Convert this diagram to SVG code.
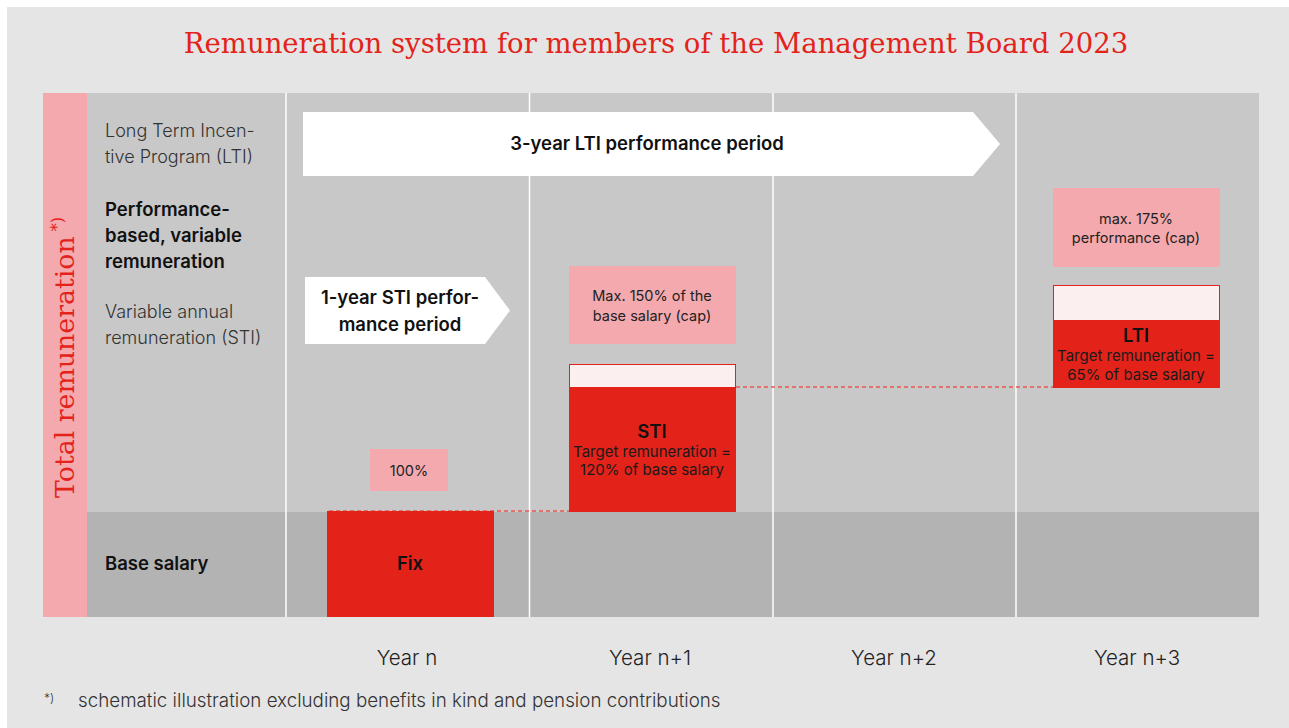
<svg xmlns="http://www.w3.org/2000/svg" width="1289" height="728" viewBox="0 0 1289 728">
  <style>
    .lbl { font-family: Inter, "Noto Sans", "Liberation Sans", sans-serif; font-size: 18px; font-weight: 300; fill: #333333; }
    .bold { font-family: Inter, "Noto Sans", "Liberation Sans", sans-serif; font-size: 18.5px; font-weight: 600; fill: #111111; }
    .small { font-family: Inter, "Noto Sans", "Liberation Sans", sans-serif; font-size: 14.5px; font-weight: 400; fill: #222222; text-anchor: middle; }
    .inred { font-family: Inter, "Noto Sans", "Liberation Sans", sans-serif; font-size: 15px; font-weight: 400; fill: #1a1a1a; text-anchor: middle; }
    .year { font-family: Inter, "Noto Sans", "Liberation Sans", sans-serif; font-size: 20.5px; font-weight: 300; fill: #222222; text-anchor: middle; }
    .note { font-family: Inter, "Noto Sans", "Liberation Sans", sans-serif; font-weight: 300; fill: #333333; }
    .slab { font-family: "DejaVu Serif", "Liberation Serif", serif; fill: #e3231a; }
    .cap { fill: #f4a9ae; }
    .red { fill: #e3231a; }
    .capbox { fill: #fcefef; stroke: #e3231a; stroke-width: 1; }
    .divider { stroke: #ffffff; stroke-width: 1.5; }
    .dash { stroke: #e8574d; stroke-width: 1.5; stroke-dasharray: 4 3; fill: none; }
    .arrow { fill: #ffffff; }
  </style>

  <!-- page background -->
  <rect x="0" y="0" width="1289" height="728" fill="#ffffff"/>
  <rect x="7" y="7" width="1282" height="721" fill="#e5e5e5"/>

  <!-- title -->
  <text class="slab" x="656" y="53" font-size="27.5" text-anchor="middle">Remuneration system for members of the Management Board 2023</text>

  <!-- chart grid -->
  <g id="grid">
    <rect x="87" y="93" width="1172" height="419" fill="#c8c8c8"/>
    <rect x="87" y="512" width="1172" height="105" fill="#b3b3b3"/>
    <rect x="43" y="93" width="44" height="524" fill="#f4a9ae"/>
    <line class="divider" x1="286" y1="93" x2="286" y2="617"/>
    <line class="divider" x1="529.5" y1="93" x2="529.5" y2="617"/>
    <line class="divider" x1="773" y1="93" x2="773" y2="617"/>
    <line class="divider" x1="1016" y1="93" x2="1016" y2="617"/>
  </g>

  <!-- vertical axis label -->
  <text class="slab" transform="translate(74 498) rotate(-90)" font-size="26.8">Total remuneration<tspan font-size="16" dy="-11" dx="5">*)</tspan></text>

  <!-- row labels -->
  <g id="row-labels">
    <text class="lbl" x="105" y="137">Long Term Incen-</text>
    <text class="lbl" x="105" y="163">tive Program (LTI)</text>
    <text class="bold" x="105" y="216">Performance-</text>
    <text class="bold" x="105" y="242">based, variable</text>
    <text class="bold" x="105" y="268">remuneration</text>
    <text class="lbl" x="105" y="318">Variable annual</text>
    <text class="lbl" x="105" y="344">remuneration (STI)</text>
    <text class="bold" x="105" y="570">Base salary</text>
  </g>

  <!-- performance period arrows -->
  <g id="lti-period">
    <polygon class="arrow" points="303,112 973,112 1000,144 973,176 303,176"/>
    <text class="bold" x="647" y="150" text-anchor="middle">3-year LTI performance period</text>
  </g>
  <g id="sti-period">
    <polygon class="arrow" points="305,277 485,277 510,310.5 485,344 305,344"/>
    <text class="bold" x="400" y="304" text-anchor="middle">1-year STI perfor-</text>
    <text class="bold" x="400" y="331" text-anchor="middle">mance period</text>
  </g>

  <!-- connectors -->
  <g id="connectors">
    <line class="dash" x1="329" y1="511" x2="569" y2="511"/>
    <line class="dash" x1="736" y1="387" x2="1053" y2="387"/>
  </g>

  <!-- year n: fixed salary -->
  <g id="fix">
    <rect class="cap" x="370" y="449" width="78" height="42"/>
    <text class="small" x="409" y="476">100%</text>
    <rect class="red" x="327" y="511" width="167" height="106"/>
    <text class="bold" x="410" y="570" text-anchor="middle">Fix</text>
  </g>

  <!-- year n+1: STI -->
  <g id="sti">
    <rect class="cap" x="569" y="266" width="167" height="78"/>
    <text class="small" x="652" y="301">Max. 150% of the</text>
    <text class="small" x="652" y="321">base salary (cap)</text>
    <rect class="capbox" x="569.5" y="364.5" width="166" height="23"/>
    <rect class="red" x="569" y="387" width="167" height="125"/>
    <text class="bold" x="652" y="438" text-anchor="middle">STI</text>
    <text class="inred" x="652" y="457">Target remuneration =</text>
    <text class="inred" x="652" y="475">120% of base salary</text>
  </g>

  <!-- year n+3: LTI -->
  <g id="lti">
    <rect class="cap" x="1053" y="188" width="167" height="79"/>
    <text class="small" x="1136" y="224">max. 175%</text>
    <text class="small" x="1136" y="243">performance (cap)</text>
    <rect class="capbox" x="1053.5" y="285.5" width="166" height="35"/>
    <rect class="red" x="1053" y="321" width="167" height="67"/>
    <text class="bold" x="1136" y="342" text-anchor="middle">LTI</text>
    <text class="inred" x="1136" y="361">Target remuneration =</text>
    <text class="inred" x="1136" y="380">65% of base salary</text>
  </g>

  <!-- year axis -->
  <g id="years">
    <text class="year" x="407" y="665">Year n</text>
    <text class="year" x="650" y="665">Year n+1</text>
    <text class="year" x="894" y="665">Year n+2</text>
    <text class="year" x="1137" y="665">Year n+3</text>
  </g>

  <!-- footnote -->
  <g id="footnote">
    <text class="note" x="44" y="702" style="font-size:12px">*)</text>
    <text class="note" x="78" y="707" style="font-size:18.8px">schematic illustration excluding benefits in kind and pension contributions</text>
  </g>
</svg>
